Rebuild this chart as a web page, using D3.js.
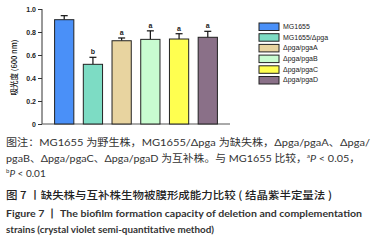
<!DOCTYPE html>
<html>
<head>
<meta charset="utf-8">
<script src="https://cdn.jsdelivr.net/npm/d3@7"></script>
<style>
  body { margin: 0; background: #fff; }
  svg { display: block; }
</style>
</head>
<body>
<svg id="chart"></svg>
<script>
const strains = ["MG1655", "MG1655/Δpga", "Δpga/pgaA", "Δpga/pgaB", "Δpga/pgaC", "Δpga/pgaD"];
const means = [0.907, 0.519, 0.724, 0.736, 0.739, 0.754];
const errors = [0.035, 0.061, 0.024, 0.074, 0.046, 0.052];
const marks = ["", "b", "a", "a", "a", "a"];
const colors = ["#4a90f8", "#7ddcc4", "#e8d4a0", "#c8fcd0", "#ffff50", "#8a7088"];
const yTicks = [0, 0.2, 0.4, 0.6, 0.8, 1.0];

const width = 379;
const height = 242;
const fontCJK = "'Noto Sans CJK SC', sans-serif";
const fontLatin = "Lato, 'Noto Sans CJK SC', sans-serif";

const svg = d3.select("#chart")
  .attr("width", width)
  .attr("height", height);

const xScale = d3.scaleBand()
  .domain(strains)
  .range([50, 222])
  .paddingInner(0.33)
  .paddingOuter(0.16);

const yScale = d3.scaleLinear()
  .domain([0, 1])
  .range([124, 9]);

// y axis
const yAxis = svg.append("g")
  .attr("transform", "translate(42,0)")
  .call(d3.axisLeft(yScale).tickValues(yTicks).tickSize(4).tickFormat(d => d === 0 ? "0" : d3.format(".1f")(d)));
yAxis.select(".domain").attr("stroke", "#333").attr("d", "M0,9V124");
yAxis.selectAll(".tick line").attr("stroke", "#333");
yAxis.selectAll(".tick text")
  .attr("x", -6)
  .attr("fill", "#222")
  .style("font-family", "Arial, 'Liberation Sans', sans-serif")
  .style("font-size", "7px")
  .style("font-weight", "bold");

// x axis line
svg.append("line")
  .attr("x1", 42).attr("x2", 230)
  .attr("y1", yScale(0)).attr("y2", yScale(0))
  .attr("stroke", "#555").attr("stroke-width", 1);

svg.append("text")
  .attr("transform", `translate(15,${(yScale(0) + yScale(1)) / 2 + 1}) rotate(-90)`)
  .attr("text-anchor", "middle")
  .attr("dominant-baseline", "middle")
  .attr("fill", "#111")
  .style("font-family", fontCJK)
  .style("font-size", "7.5px")
  .style("font-weight", "500")
  .text("吸光度 (600 nm)");

const bars = svg.append("g");
strains.forEach((s, i) => {
  const x = xScale(s);
  const bw = xScale.bandwidth();
  const cx = x + bw / 2;
  const top = yScale(means[i] + errors[i]);
  bars.append("line")
    .attr("x1", cx).attr("x2", cx)
    .attr("y1", yScale(means[i])).attr("y2", top)
    .attr("stroke", "#111").attr("stroke-width", 1.2);
  bars.append("line")
    .attr("x1", cx - 3.5).attr("x2", cx + 3.5)
    .attr("y1", top).attr("y2", top)
    .attr("stroke", "#111").attr("stroke-width", 1.2);
  bars.append("rect")
    .attr("x", x)
    .attr("y", yScale(means[i]))
    .attr("width", bw)
    .attr("height", yScale(0) - yScale(means[i]))
    .attr("fill", colors[i])
    .attr("stroke", "#222")
    .attr("stroke-width", 1);
  if (marks[i]) {
    bars.append("text")
      .attr("x", cx)
      .attr("y", top - 3)
      .attr("text-anchor", "middle")
      .attr("fill", "#222")
      .style("font-family", "Arial, 'Liberation Sans', sans-serif")
      .style("font-size", "7px")
      .style("font-weight", "bold")
      .text(marks[i]);
  }
});

// legend
const legend = svg.append("g");
strains.forEach((s, i) => {
  const y = 23 + i * 10.7;
  legend.append("rect")
    .attr("x", 259).attr("y", y)
    .attr("width", 20).attr("height", 7.5)
    .attr("fill", colors[i])
    .attr("stroke", "#222").attr("stroke-width", 1);
  legend.append("text")
    .attr("x", 283).attr("y", y + 4)
    .attr("dominant-baseline", "middle")
    .attr("fill", "#222")
    .style("font-family", "Arial, 'Liberation Sans', sans-serif")
    .style("font-size", "7px")
    .text(s);
});

// caption
const note = svg.append("g")
  .attr("fill", "#333")
  .style("font-family", fontLatin)
  .style("font-size", "10px");

note.append("text").attr("x", 6).attr("y", 146)
  .attr("textLength", 364).attr("lengthAdjust", "spacingAndGlyphs")
  .text("图注：MG1655 为野生株，MG1655/Δpga 为缺失株，Δpga/pgaA、Δpga/");

const l2 = note.append("text").attr("x", 6).attr("y", 162)
  .attr("textLength", 354).attr("lengthAdjust", "spacingAndGlyphs");
l2.append("tspan").text("pgaB、Δpga/pgaC、Δpga/pgaD 为互补株。与 MG1655 比较，");
l2.append("tspan").attr("font-size", "6px").attr("dy", -4).text("a");
l2.append("tspan").attr("font-style", "italic").attr("dy", 4).text("P");
l2.append("tspan").text(" < 0.05，");

const l3 = note.append("text").attr("x", 6).attr("y", 177);
l3.append("tspan").attr("font-size", "6px").attr("dy", -4).text("b");
l3.append("tspan").attr("font-style", "italic").attr("dy", 4).text("P");
l3.append("tspan").text(" < 0.01");

svg.append("text").attr("x", 6).attr("y", 199)
  .attr("fill", "#222")
  .style("font-family", fontCJK)
  .style("font-size", "10.5px")
  .style("font-weight", "500")
  .attr("textLength", 326).attr("lengthAdjust", "spacingAndGlyphs")
  .text("图 7 丨缺失株与互补株生物被膜形成能力比较 ( 结晶紫半定量法 )");

const fig = svg.append("g")
  .attr("fill", "#333")
  .style("font-family", "Lato, sans-serif")
  .style("font-size", "10px")
  .style("font-weight", "bold");
fig.append("text").attr("x", 6).attr("y", 217)
  .attr("textLength", 356).attr("lengthAdjust", "spacingAndGlyphs")
  .text("Figure 7 丨 The biofilm formation capacity of deletion and complementation");
fig.append("text").attr("x", 6).attr("y", 233)
  .attr("textLength", 208).attr("lengthAdjust", "spacingAndGlyphs")
  .text("strains (crystal violet semi-quantitative method)");
</script>
</body>
</html>
